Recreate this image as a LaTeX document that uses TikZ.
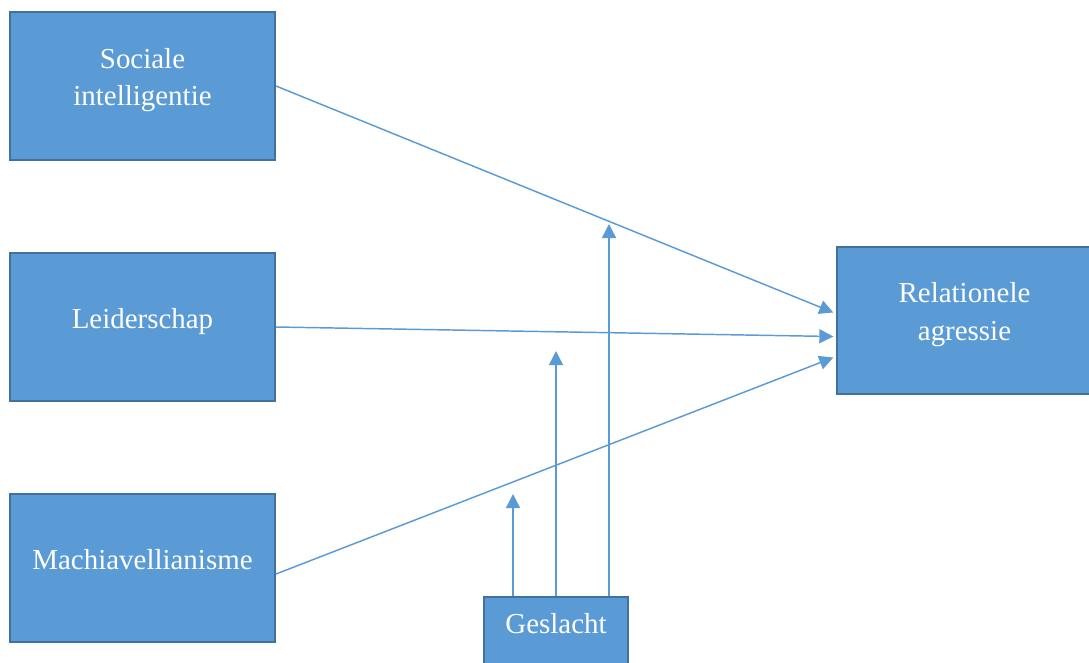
\documentclass[tikz,border=0pt]{standalone}
\usepackage{fontspec}
\setmainfont{Liberation Serif}
\usepackage{tikz}
\usetikzlibrary{positioning,arrows.meta}

\definecolor{boxfill}{HTML}{5B9BD5}
\definecolor{boxline}{HTML}{41719C}
\definecolor{arrowline}{HTML}{5B9BD5}

\begin{document}
\begin{tikzpicture}[
    x=0.75pt, y=-0.75pt,
    node distance=68.25pt,
    var/.style={rectangle, draw=boxline, fill=boxfill, line width=1.5pt,
        minimum width=198.75pt, minimum height=111pt, align=center,
        text depth=13.5pt,
        text=white, font=\fontsize{21.7}{28}\selectfont},
    link/.style={draw=arrowline, line width=1.1pt, -{Triangle[length=10.5pt,width=10.5pt]}}
]
    \useasboundingbox (0,0) rectangle (1089,662);

    \node[var] (sociaal) at (142.5,86) {Sociale\\intelligentie};
    \node[var, below=of sociaal] (leider) {Leiderschap};
    \node[var, below=of leider] (machia) {Machiavellianisme};
    \node[var, minimum width=191.25pt, minimum height=110.25pt] (relag) at (964.5,320.5) {Relationele\\agressie};
    \node[var, minimum width=108pt, minimum height=52.5pt] (geslacht) at (556,632) {Geslacht};

    \draw[link] (sociaal.east) -- ([xshift=-2pt,yshift=6pt]relag.west);
    \draw[link] (leider.east) -- ([xshift=-2pt,yshift=-12pt]relag.west);
    \draw[link] ([yshift=-4.5pt]machia.east) -- ([xshift=-2pt,yshift=-27.75pt]relag.west);

    \draw[link] ([xshift=-32.25pt]geslacht.north) -- ++(0,-102);
    \draw[link] (geslacht.north) -- ++(0,-245);
    \draw[link] ([xshift=39.75pt]geslacht.north) -- ++(0,-372);
\end{tikzpicture}
\end{document}
